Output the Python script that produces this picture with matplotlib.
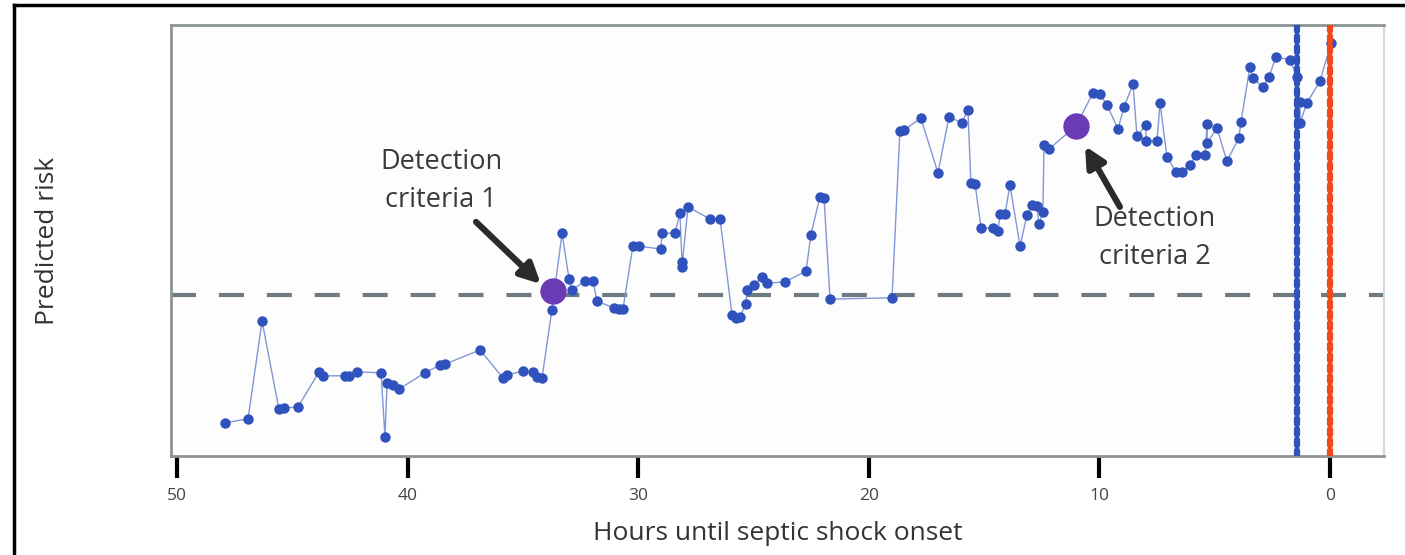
"""
Predicted septic shock risk over time, with detection points.
"""

import numpy as np
import matplotlib.pyplot as plt
from matplotlib.lines import Line2D

# hours before onset and predicted risk (0..1 scale, axis has no ticks)
hours = [47.92, 46.92, 46.31, 45.58, 45.36, 44.75, 43.84, 43.67, 42.71, 42.54,
         42.19, 41.15, 40.98, 40.89, 40.63, 40.37, 39.25, 38.59, 38.38, 36.86,
         35.86, 35.69, 35.00, 34.56, 34.39, 34.17, 33.74, 33.30, 33.00, 32.87,
         32.31, 31.96, 31.79, 31.05, 30.83, 30.66, 30.23, 29.97, 29.01, 28.97,
         28.40, 28.19, 28.10, 28.10, 27.84, 26.89, 26.45, 25.93, 25.76, 25.59,
         25.33, 25.28, 24.98, 24.63, 24.41, 23.63, 22.72, 22.51, 22.12, 21.94,
         21.68, 18.99, 18.65, 18.47, 17.74, 17.00, 16.52, 15.96, 15.70, 15.57,
         15.39, 15.13, 14.61, 14.40, 14.31, 14.09, 13.88, 13.44, 13.14, 12.92,
         12.71, 12.62, 12.45, 12.40, 12.19, 11.01, 10.28, 9.97, 9.67, 9.19,
         8.93, 8.54, 8.37, 7.98, 7.98, 7.50, 7.37, 7.07, 6.68, 6.42,
         6.07, 5.81, 5.42, 5.33, 5.33, 4.90, 4.47, 3.95, 3.86, 3.47,
         3.34, 2.91, 2.65, 2.34, 1.73, 1.43, 1.30, 1.30, 1.00, 0.43,
         -0.04]
risk = [0.077, 0.086, 0.313, 0.109, 0.111, 0.114, 0.195, 0.186, 0.186, 0.186,
        0.195, 0.193, 0.044, 0.169, 0.165, 0.155, 0.193, 0.211, 0.213, 0.246,
        0.181, 0.188, 0.197, 0.195, 0.183, 0.181, 0.339, 0.517, 0.411, 0.385,
        0.406, 0.406, 0.360, 0.343, 0.341, 0.341, 0.487, 0.487, 0.480, 0.517,
        0.517, 0.564, 0.450, 0.439, 0.578, 0.550, 0.550, 0.327, 0.320, 0.323,
        0.353, 0.385, 0.397, 0.415, 0.401, 0.404, 0.429, 0.513, 0.601, 0.599,
        0.364, 0.367, 0.754, 0.756, 0.784, 0.657, 0.787, 0.773, 0.803, 0.633,
        0.631, 0.529, 0.529, 0.522, 0.561, 0.561, 0.629, 0.487, 0.559, 0.582,
        0.580, 0.538, 0.566, 0.722, 0.712, 0.766, 0.842, 0.840, 0.814, 0.759,
        0.810, 0.863, 0.742, 0.768, 0.731, 0.731, 0.819, 0.694, 0.659, 0.659,
        0.675, 0.698, 0.698, 0.770, 0.726, 0.761, 0.684, 0.738, 0.775, 0.903,
        0.877, 0.856, 0.879, 0.926, 0.919, 0.879, 0.821, 0.773, 0.819, 0.870,
        0.958]

threshold = 0.374
detect_hours = [33.70, 11.01]
detect_risk = [0.383, 0.766]
detect_labels = ['Detection\ncriteria 1', 'Detection\ncriteria 2']
label_pos = [(38.55, 0.638), (7.59, 0.506)]
arrow_tail = [(37.03, 0.543), (9.11, 0.578)]
arrow_tip = [(34.22, 0.399), (10.62, 0.719)]
alarm_hour = 1.43   # blue vertical
onset_hour = 0.0    # red vertical
xticks = [50, 40, 30, 20, 10, 0]

plt.rcParams['font.family'] = ['Open Sans', 'DejaVu Sans']

fig = plt.figure(figsize=(14.05, 5.55), dpi=100)
ax = fig.add_axes([0.1217, 0.1784, 0.8633, 0.7766])
ax.set_facecolor('#fefdfe')

ax.axhline(threshold, color='#6c7b82', linewidth=3, dashes=(6, 5.5), zorder=1)

ax.plot(hours, risk, color='#8396d6', linewidth=1, zorder=2)
ax.plot(hours, risk, 'o', color='#2f52bd', markersize=7.5, markeredgewidth=0,
        zorder=3)

ax.axvline(alarm_hour, color='#2f52bd', linewidth=4.5, linestyle=(0, (0.9, 0.8)),
           dash_capstyle='round', zorder=4)
ax.axvline(onset_hour, color='#f04a1c', linewidth=4.5, linestyle=(0, (0.9, 0.8)),
           dash_capstyle='round', zorder=4)

ax.plot(detect_hours, detect_risk, 'o', color='#6a3bb5', markersize=19,
        markeredgewidth=0, zorder=5)

# annotations: text and arrows drawn separately
for lab, pos, tail, tip in zip(detect_labels, label_pos, arrow_tail, arrow_tip):
    ax.text(pos[0], pos[1], lab, ha='center', va='center', fontsize=19.5,
            color='#3a3a3a', linespacing=1.47)
    ax.annotate('', xy=tip, xytext=tail,
                arrowprops=dict(arrowstyle='-|>,head_length=1.2,head_width=0.6',
                                color='#2b2b2b', lw=4.5, shrinkA=0, shrinkB=0),
                zorder=6)

ax.set_xlim(50.26, -2.34)
ax.set_ylim(0, 1)
ax.set_yticks([])
ax.set_xticks(xticks)
ax.set_xticklabels([str(t) for t in xticks], fontsize=12.5, color='#444444')
ax.tick_params(axis='x', direction='out', length=16, width=3, color='black',
               pad=7)

for side in ['left', 'top', 'bottom']:
    ax.spines[side].set_color('#8c9496')
    ax.spines[side].set_linewidth(2)
ax.spines['right'].set_color('#d3d8da')
ax.spines['right'].set_linewidth(1.5)

ax.set_xlabel('Hours until septic shock onset', fontsize=19, color='#333333',
              labelpad=12)
ax.set_ylabel('Predicted risk', fontsize=19, color='#333333', labelpad=80)

# screenshot border
fig.add_artist(Line2D([0.0100, 1.0], [0.991, 0.991], color='black', lw=2.5,
                      transform=fig.transFigure))
fig.add_artist(Line2D([0.0100, 0.0100], [0.0, 0.991], color='black', lw=2.5,
                      transform=fig.transFigure))

fig.savefig('out.png', dpi=100)
